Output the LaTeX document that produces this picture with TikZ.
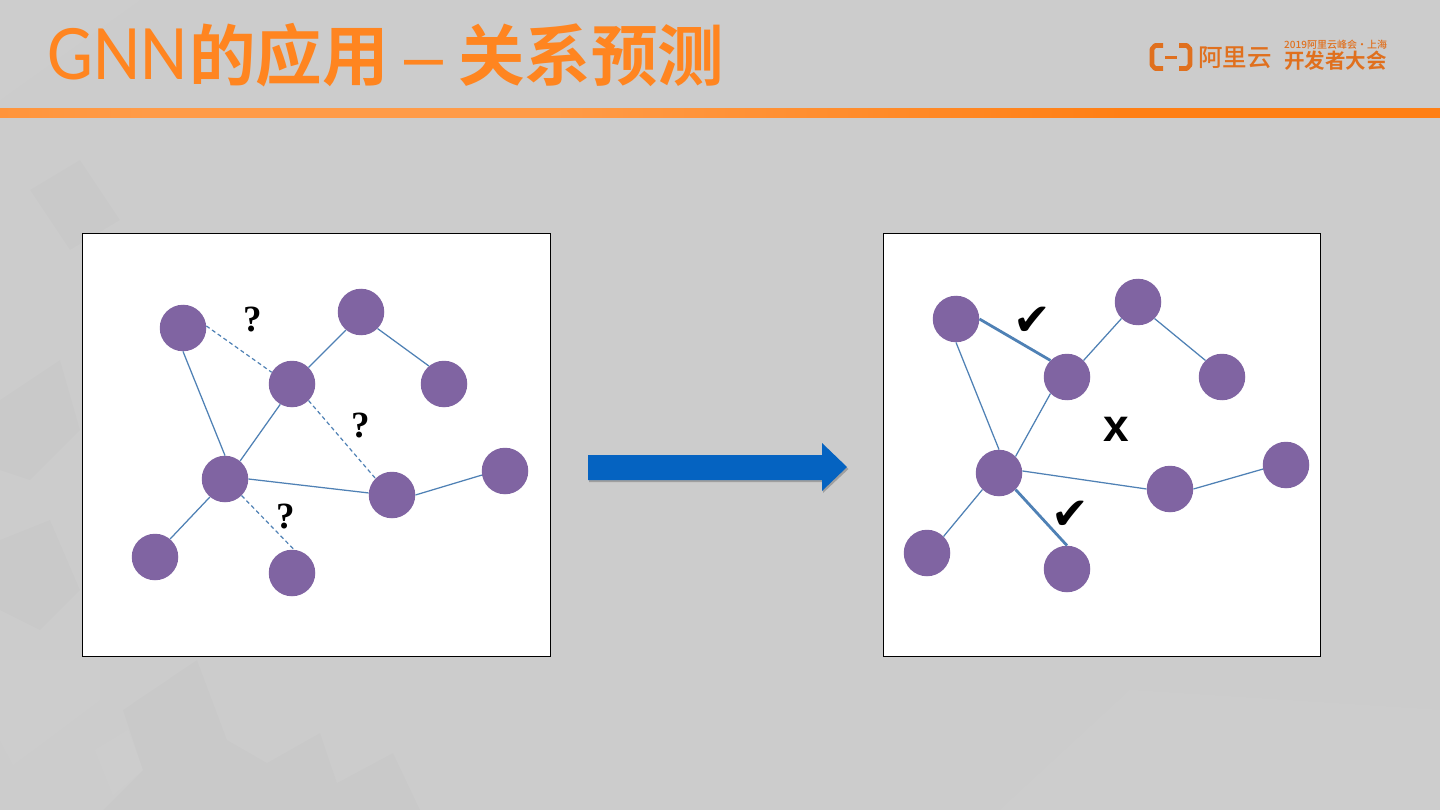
\documentclass[tikz,border=0pt]{standalone}
\usepackage{fontspec}
\usepackage{graphicx}
\setmainfont{Liberation Sans}
\newfontfamily\cjkb{Noto Sans CJK SC Bold}
\newfontfamily\cjkm{Noto Sans CJK SC Medium}
\newfontfamily\cjkr{Noto Sans CJK SC}
\newfontfamily\latint{Carlito}
\newfontfamily\dejavu{DejaVu Sans}
\newfontfamily\serifb{Liberation Serif}
\definecolor{bgc}{HTML}{CCCCCC}
\definecolor{orng}{HTML}{FF8520}
\definecolor{barc}{HTML}{FF7F14}
\definecolor{logoc}{HTML}{E0701E}
\definecolor{edgec}{HTML}{4F81B5}
\definecolor{nodec}{HTML}{8064A2}
\definecolor{arrowc}{HTML}{0563C1}
\pgfdeclarehorizontalshading{barshade}{100bp}{color(0bp)=(barc);color(10bp)=(barc);color(30bp)=(barc!78!white);color(44bp)=(barc!78!white);color(64bp)=(barc);color(100bp)=(barc)}
\tikzset{
 gnode/.style={circle,fill=nodec,minimum size=46.5pt,inner sep=0pt},
 edgeline/.style={draw=edgec,line width=1.25pt},
 dashline/.style={draw=edgec,line width=1.2pt,dash pattern=on 4pt off 3pt},
 thickline/.style={draw=edgec,line width=2.8pt},
 panel/.style={draw=black,fill=white,line width=0.9pt},
 qmark/.style={font=\fontsize{37}{37}\selectfont\bfseries\serifb,text=black,inner sep=0pt},
 cmark/.style={font=\fontsize{45}{45}\selectfont\dejavu,text=black,inner sep=0pt},
 tile/.style={fill=white,opacity=0.03,draw=none},
 tiled/.style={fill=black,opacity=0.012,draw=none},
 titletext/.style={anchor=base west,inner sep=0pt,text=orng},
 logotext/.style={anchor=base west,inner sep=0pt,text=logoc},
}
\begin{document}
\begin{tikzpicture}[x=1pt,y=-1pt]
\useasboundingbox (0,0) rectangle (1440,810);
\fill[bgc] (0,0) rectangle (1440,810);
% faint background tiles
\fill[tile] (0,100) -- (140,0) -- (0,0) -- cycle;
\fill[tiled] (30,190) -- (80,160) -- (120,220) -- (70,250) -- cycle;
\fill[tiled] (0,400) -- (60,360) -- (80,430) -- (30,480) -- (0,470) -- cycle;
\fill[tiled] (0,540) -- (50,520) -- (80,590) -- (40,630) -- (0,610) -- cycle;
\fill[tile] (0,660) -- (100,660) -- (100,700) -- (13,765) -- (0,740) -- cycle;
\fill[tiled] (123,710) -- (197,660) -- (227,740) -- (267,763) -- (320,733) -- (337,783) -- (393,753) -- (420,810) -- (103,810) -- (143,770) -- cycle;
\fill[tile] (95,750) -- (128,730) -- (143,770) -- (113,795) -- cycle;
\fill[tile] (1000,810) -- (1130,690) -- (1440,710) -- (1440,810) -- cycle;
% title
\node[titletext] (titlea) at (47,80) {\fontsize{73}{73}\selectfont\latint\scalebox{1}[1.08]{GNN}};
\node[titletext] (titleb) at (189,81) {\fontsize{66.5}{66.5}\selectfont\cjkb 的应用};
\node[titletext] (titlec) at (404,81) {\fontsize{70}{70}\selectfont –};
\node[titletext] (titled) at (458,81) {\fontsize{66.5}{66.5}\selectfont\cjkb 关系预测};
% bar
\begin{scope}
\clip (0,108.6) rectangle (1440,118);
\shade[shading=barshade] (0,107) rectangle (1440,119);
\end{scope}
% logo
\draw[logoc,line width=4.6pt,line join=round] (1163,45.5) -- (1155,45.5) -- (1152,49) -- (1152,65) -- (1155,68.5) -- (1163,68.5);
\draw[logoc,line width=4.6pt,line join=round] (1179,45.5) -- (1187,45.5) -- (1190,49) -- (1190,65) -- (1187,68.5) -- (1179,68.5);
\draw[logoc,line width=2.4pt] (1165,57.5) -- (1177,57.5);
\node[logotext] (logomain) at (1198,67) {\fontsize{24.5}{24.5}\selectfont\cjkm 阿里云};
\node[logotext] (logosmall) at (1284,49) {\fontsize{10}{10}\selectfont\cjkm 2019阿里云峰会·上海};
\node[logotext] (logobig) at (1284,69) {\fontsize{20.5}{20.5}\selectfont\cjkb 开发者大会};
% left panel
\draw[panel] (82.5,233.5) rectangle (550.5,656.5);
\node[gnode] (la) at (183,328) {};
\node[gnode] (lb) at (361,312) {};
\node[gnode] (lc) at (292,384) {};
\node[gnode] (ld) at (444,384) {};
\node[gnode] (le) at (225,479) {};
\node[gnode] (lf) at (392,495) {};
\node[gnode] (lg) at (505,471) {};
\node[gnode] (lh) at (155,557) {};
\node[gnode] (li) at (292,573) {};
\draw[edgeline] (la.south) -- (le.north);
\draw[edgeline] (lc.45) -- (lb.230);
\draw[edgeline] (lb.-45) -- (ld.130);
\draw[edgeline] (lc.240) -- (le.50);
\draw[edgeline] (le.east) -- (lf.175);
\draw[edgeline] (lf.0) -- (lg.190);
\draw[edgeline] (le.230) -- (lh.50);
\draw[dashline] (la.5) -- (lc.150);
\draw[dashline] (lc.-45) -- (lf.135);
\draw[dashline] (le.-45) -- (li.85);
\node[qmark] (q1) at (253,320) {?};
\node[qmark] (q2) at (361,426) {?};
\node[qmark] (q3) at (286,517) {?};
% arrow
\fill[black,opacity=0.22] (589,457) -- (823,457) -- (823,445) -- (848.5,469) -- (823,493) -- (823,482) -- (589,482) -- cycle;
\fill[arrowc] (588,455) -- (822,455) -- (822,443) -- (847,467) -- (822,491) -- (822,480) -- (588,480) -- cycle;
% right panel
\draw[panel] (883.5,233.5) rectangle (1320.5,656.5);
\node[gnode] (ra) at (956,319) {};
\node[gnode] (rb) at (1138,302) {};
\node[gnode] (rc) at (1067,377) {};
\node[gnode] (rd) at (1222,377) {};
\node[gnode] (re) at (999,473) {};
\node[gnode] (rf) at (1170,489) {};
\node[gnode] (rg) at (1286,465) {};
\node[gnode] (rh) at (927,553) {};
\node[gnode] (ri) at (1067,569) {};
\draw[edgeline] (ra.south) -- (re.north);
\draw[edgeline] (rc.45) -- (rb.225);
\draw[edgeline] (rb.-45) -- (rd.135);
\draw[edgeline] (rc.225) -- (re.45);
\draw[edgeline] (re.5) -- (rf.180);
\draw[edgeline] (rf.0) -- (rg.190);
\draw[edgeline] (re.225) -- (rh.45);
\draw[thickline] (ra.0) -- (rc.135);
\draw[thickline] (re.-45) -- (ri.north);
\node[cmark] (c1) at (1032,321) {✔};
\node[cmark] (c2) at (1070,515) {✔};
\node[inner sep=0pt,text=black] (x1) at (1116,429) {\fontsize{46}{46}\selectfont\bfseries x};
\end{tikzpicture}
\end{document}
